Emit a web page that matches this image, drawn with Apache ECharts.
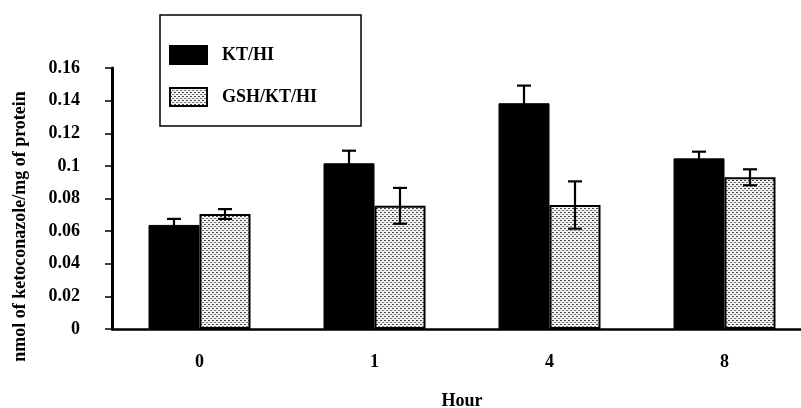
<!DOCTYPE html>
<html>
<head>
<meta charset="utf-8">
<script src="https://cdn.jsdelivr.net/npm/echarts@6/dist/echarts.min.js"></script>
<style>html,body{margin:0;padding:0;background:#fff}#c{width:801px;height:408px}</style>
</head>
<body>
<div id="c"></div>
<script>
// ---- data ----
var categories = ['0', '1', '4', '8'];
var seriesNames = ['KT/HI', 'GSH/KT/HI'];
var ktMean = [0.0638, 0.1016, 0.1384, 0.1046];
var ktErr = [0.0037, 0.0077, 0.0108, 0.0041];
var gshMean = [0.0705, 0.0755, 0.0760, 0.0930];
var gshErr = [0.0030, 0.0110, 0.0145, 0.0049];
var yTicks = { min: 0, max: 0.16, interval: 0.02 };
var xName = 'Hour';
var yName = 'nmol of ketoconazole/mg of protein';

// ---- styles ----
var FONT = 'Liberation Serif';
var FS = 18;
var BAR_W = 51;

function makePattern() {
  var c = document.createElement('canvas');
  c.width = 4; c.height = 4;
  var g = c.getContext('2d');
  g.fillStyle = '#f4f4f4'; g.fillRect(0, 0, 4, 4);
  g.fillStyle = '#444444';
  g.fillRect(0, 0, 2, 1);
  g.fillStyle = '#777777';
  g.fillRect(2, 2, 2, 1);
  g.fillStyle = '#cccccc';
  g.fillRect(0, 2, 1, 1);
  return c;
}
var patternFill = { image: makePattern(), repeat: 'repeat' };

function errData(mean, err) {
  return mean.map(function (m, i) { return [i, m, err[i]]; });
}
function errRender(offsetSign) {
  return function (params, api) {
    var i = api.value(0), m = api.value(1), e = api.value(2);
    var pt = api.coord([i, m]);
    var x = pt[0] + offsetSign * BAR_W / 2;
    var top = api.coord([i, m + e])[1];
    var bot = api.coord([i, m - e])[1];
    var cap = 7;
    var st = { stroke: '#000', lineWidth: 2.2 };
    return {
      type: 'group',
      children: [
        { type: 'line', shape: { x1: x, y1: top, x2: x, y2: bot }, style: st },
        { type: 'line', shape: { x1: x - cap, y1: top, x2: x + cap, y2: top }, style: st },
        { type: 'line', shape: { x1: x - cap, y1: bot, x2: x + cap, y2: bot }, style: st }
      ]
    };
  };
}

var chart = echarts.init(document.getElementById('c'), null, { renderer: 'canvas' });
chart.setOption({
  animation: false,
  backgroundColor: '#fff',
  textStyle: { fontFamily: FONT },
  grid: { left: 112, right: -11, top: 68, bottom: 79, containLabel: false, outerBoundsMode: 'none' },
  legend: {
    orient: 'vertical',
    left: 160, top: 15,
    padding: [30, 44, 19, 9],
    itemGap: 22,
    itemWidth: 37, itemHeight: 18,
    borderColor: '#000', borderWidth: 1.5,
    textStyle: { fontFamily: FONT, fontWeight: 'bold', fontSize: FS, lineHeight: 18, color: '#000', padding: [0, 0, 0, 10] },
    data: [
      { name: seriesNames[0], icon: 'rect' },
      { name: seriesNames[1], icon: 'rect' }
    ]
  },
  xAxis: {
    type: 'category',
    data: categories,
    name: xName,
    nameLocation: 'middle',
    nameGap: 63,
    nameTextStyle: { fontFamily: FONT, fontWeight: 'bold', fontSize: FS, color: '#000' },
    axisLine: { lineStyle: { color: '#000', width: 2.5 } },
    axisTick: { length: 8, lineStyle: { color: '#000', width: 1.5 } },
    axisLabel: { margin: 24, fontFamily: FONT, fontWeight: 'bold', fontSize: FS, color: '#000' },
    splitLine: { show: false }
  },
  yAxis: {
    type: 'value',
    min: yTicks.min, max: yTicks.max, interval: yTicks.interval,
    name: yName,
    nameLocation: 'middle',
    nameRotate: 90,
    nameGap: 83,
    nameTextStyle: { fontFamily: FONT, fontWeight: 'bold', fontSize: FS, color: '#000', padding: [0, 56, 0, 0] },
    axisLine: { show: true, lineStyle: { color: '#000', width: 3 } },
    axisTick: { show: true, length: 7, lineStyle: { color: '#000', width: 1.5 } },
    axisLabel: { margin: 32, fontFamily: FONT, fontWeight: 'bold', fontSize: FS, color: '#000' },
    splitLine: { show: false }
  },
  series: [
    {
      name: seriesNames[0], type: 'bar', data: ktMean,
      barWidth: BAR_W, barGap: '0%',
      itemStyle: { color: '#000', borderColor: '#000', borderWidth: 1 }
    },
    {
      name: seriesNames[1], type: 'bar', data: gshMean,
      barWidth: BAR_W, barGap: '0%',
      itemStyle: { color: patternFill, borderColor: '#000', borderWidth: 2 }
    },
    {
      name: seriesNames[0] + ' err', type: 'custom', data: errData(ktMean, ktErr),
      renderItem: errRender(-1), z: 5, silent: true
    },
    {
      name: seriesNames[1] + ' err', type: 'custom', data: errData(gshMean, gshErr),
      renderItem: errRender(1), z: 5, silent: true
    }
  ]
});
</script>
</body>
</html>
